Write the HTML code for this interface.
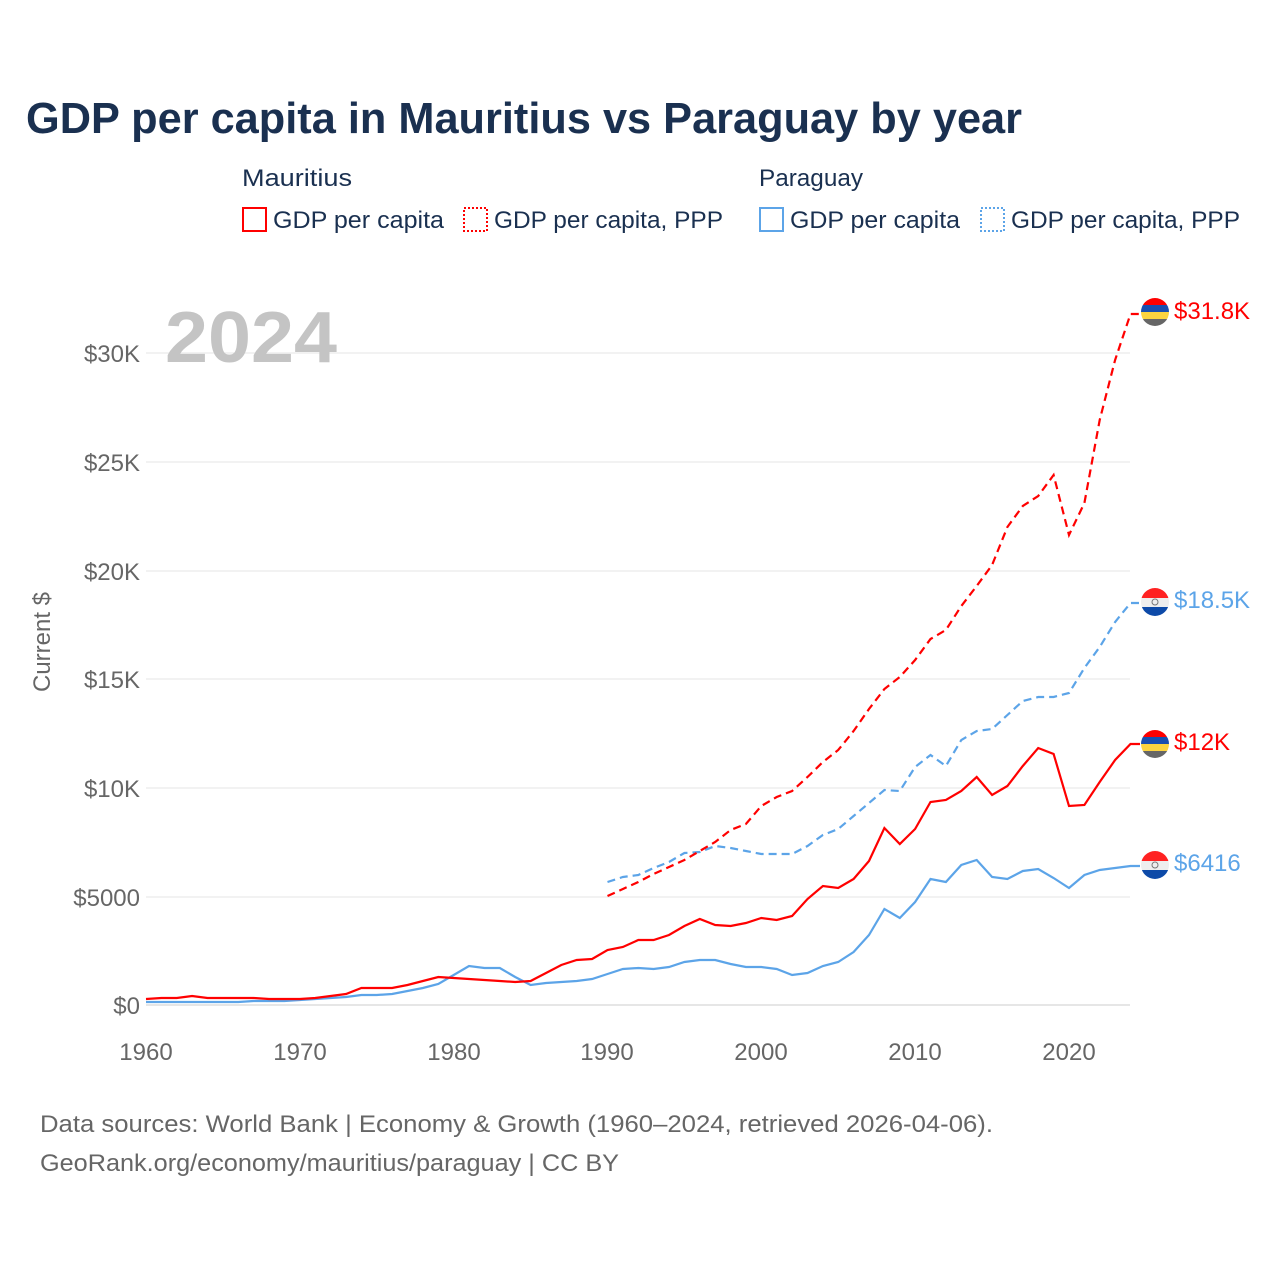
<!DOCTYPE html>
<html><head><meta charset="utf-8"><style>
body{margin:0;background:#fff;width:1280px;height:1280px;overflow:hidden;font-family:"Liberation Sans",sans-serif}
</style></head><body>
<svg id="s" width="1280" height="1280" xmlns="http://www.w3.org/2000/svg" font-family="Liberation Sans, sans-serif">
<text x="26" y="133" font-size="44" font-weight="bold" fill="#1a3050" textLength="996" lengthAdjust="spacingAndGlyphs">GDP per capita in Mauritius vs Paraguay by year</text>
<text x="242" y="186" font-size="24" fill="#1a3050" textLength="110" lengthAdjust="spacingAndGlyphs">Mauritius</text>
<text x="759" y="186" font-size="24" fill="#1a3050" textLength="104" lengthAdjust="spacingAndGlyphs">Paraguay</text>
<rect x="243" y="208" width="23" height="23" fill="none" stroke="#f00" stroke-width="2"/>
<text x="273" y="228" font-size="24" fill="#1a3050" textLength="171" lengthAdjust="spacingAndGlyphs">GDP per capita</text>
<rect x="464" y="208" width="23" height="23" fill="none" stroke="#f00" stroke-width="2" stroke-dasharray="2,2"/>
<text x="494" y="228" font-size="24" fill="#1a3050" textLength="229" lengthAdjust="spacingAndGlyphs">GDP per capita, PPP</text>
<rect x="760" y="208" width="23" height="23" fill="none" stroke="#5ca4e8" stroke-width="2"/>
<text x="790" y="228" font-size="24" fill="#1a3050" textLength="170" lengthAdjust="spacingAndGlyphs">GDP per capita</text>
<rect x="981" y="208" width="23" height="23" fill="none" stroke="#5ca4e8" stroke-width="2" stroke-dasharray="2,2"/>
<text x="1011" y="228" font-size="24" fill="#1a3050" textLength="229" lengthAdjust="spacingAndGlyphs">GDP per capita, PPP</text>
<g stroke="#e6e6e6" stroke-width="1">
<line x1="146" x2="1130" y1="353" y2="353"/><line x1="146" x2="1130" y1="462" y2="462"/><line x1="146" x2="1130" y1="571" y2="571"/><line x1="146" x2="1130" y1="679" y2="679"/><line x1="146" x2="1130" y1="788" y2="788"/><line x1="146" x2="1130" y1="897" y2="897"/></g>
<line x1="146" x2="1130" y1="1005" y2="1005" stroke="#ccc"/>
<g font-size="24" fill="#666" text-anchor="end">
<text x="140" y="362">$30K</text><text x="140" y="471">$25K</text><text x="140" y="580">$20K</text><text x="140" y="688">$15K</text><text x="140" y="797">$10K</text><text x="140" y="906">$5000</text><text x="140" y="1014">$0</text></g>
<g font-size="24" fill="#666" text-anchor="middle">
<text x="146" y="1060">1960</text><text x="300" y="1060">1970</text><text x="454" y="1060">1980</text><text x="607" y="1060">1990</text><text x="761" y="1060">2000</text><text x="915" y="1060">2010</text><text x="1069" y="1060">2020</text></g>
<text transform="translate(50,642) rotate(-90)" font-size="24" fill="#666" text-anchor="middle">Current $</text>
<text x="165" y="362" font-size="72" font-weight="bold" fill="#c4c4c4" textLength="172" lengthAdjust="spacingAndGlyphs">2024</text>
<g id="lines" fill="none" stroke-width="2.2"></g>
<g font-size="24">
<text x="1174" y="319" fill="#f00">$31.8K</text>
<text x="1174" y="608" fill="#5ca4e8">$18.5K</text>
<text x="1174" y="750" fill="#f00">$12K</text>
<text x="1174" y="871" fill="#5ca4e8">$6416</text></g>
<defs>
<clipPath id="c1"><circle cx="1155" cy="312" r="14"/></clipPath>
<clipPath id="c2"><circle cx="1155" cy="602" r="14"/></clipPath>
<clipPath id="c3"><circle cx="1155" cy="744" r="14"/></clipPath>
<clipPath id="c4"><circle cx="1155" cy="865" r="14"/></clipPath>
</defs>
<g clip-path="url(#c1)"><rect x="1140" y="298" width="30" height="7" fill="#f00"/><rect x="1140" y="305" width="30" height="7" fill="#1a4fb0"/><rect x="1140" y="312" width="30" height="7" fill="#fcd440"/><rect x="1140" y="319" width="30" height="8" fill="#666"/></g>
<g clip-path="url(#c3)"><rect x="1140" y="730" width="30" height="7" fill="#f00"/><rect x="1140" y="737" width="30" height="7" fill="#1a4fb0"/><rect x="1140" y="744" width="30" height="7" fill="#fcd440"/><rect x="1140" y="751" width="30" height="8" fill="#666"/></g>
<g clip-path="url(#c2)"><rect x="1140" y="588" width="30" height="10" fill="#f22"/><rect x="1140" y="598" width="30" height="9" fill="#eee"/><rect x="1140" y="607" width="30" height="10" fill="#0d4aa8"/><circle cx="1155" cy="602" r="3" fill="none" stroke="#777" stroke-width="1"/></g>
<g clip-path="url(#c4)"><rect x="1140" y="851" width="30" height="10" fill="#f22"/><rect x="1140" y="861" width="30" height="9" fill="#eee"/><rect x="1140" y="870" width="30" height="10" fill="#0d4aa8"/><circle cx="1155" cy="865" r="3" fill="none" stroke="#777" stroke-width="1"/></g>
<text x="40" y="1132" font-size="24" fill="#666" textLength="953" lengthAdjust="spacingAndGlyphs">Data sources: World Bank | Economy &amp; Growth (1960–2024, retrieved 2026-04-06).</text>
<text x="40" y="1171" font-size="24" fill="#666" textLength="579" lengthAdjust="spacingAndGlyphs">GeoRank.org/economy/mauritius/paraguay | CC BY</text>
</svg>
<script>
var mg=[999,998,998,996,998,998,998,998,999,999,999,998,996,994,988,988,988,985,981,977,978,979,980,981,982,981,973,965,960,959,950,947,940,940,935,926,919,925,926,923,918,920,916,899,886,888,879,861,828,844,829,802,800,791,777,795,786,766,748,754,806,805,782,760,744];
var pg=[1002,1002,1002,1002,1002,1002,1002,1001,1001,1001,1000,999,998,997,995,995,994,991,988,984,975,966,968,968,977,985,983,982,981,979,974,969,968,969,967,962,960,960,964,967,967,969,975,973,966,962,952,935,909,918,902,879,882,865,860,877,879,871,869,878,888,875,870,868,866];
var mp=[896,889,882,874,867,860,851,842,830,824,806,797,791,777,762,750,731,709,689,677,660,639,630,606,586,565,527,506,496,475,535,503,420,360,314];
var pp=[882,877,875,868,862,853,852,846,848,851,854,854,854,846,835,829,816,803,790,791,767,755,766,740,731,729,715,701,697,697,693,668,647,622,603];
function pts(a,s){var r=[];for(var i=0;i<a.length;i++)r.push((146+15.383*(s+i-1960)).toFixed(1)+","+a[i]);r.push("1140,"+a[a.length-1]);return r.join(" ");}
var g=document.getElementById("lines");
function add(a,s,c,d){var p=document.createElementNS("http://www.w3.org/2000/svg","polyline");p.setAttribute("points",pts(a,s));p.setAttribute("stroke",c);if(d)p.setAttribute("stroke-dasharray","8,5");g.appendChild(p);}
add(pg,1960,"#5ca4e8");add(pp,1990,"#5ca4e8",1);add(mg,1960,"#f00");add(mp,1990,"#f00",1);
</script>
</body></html>
